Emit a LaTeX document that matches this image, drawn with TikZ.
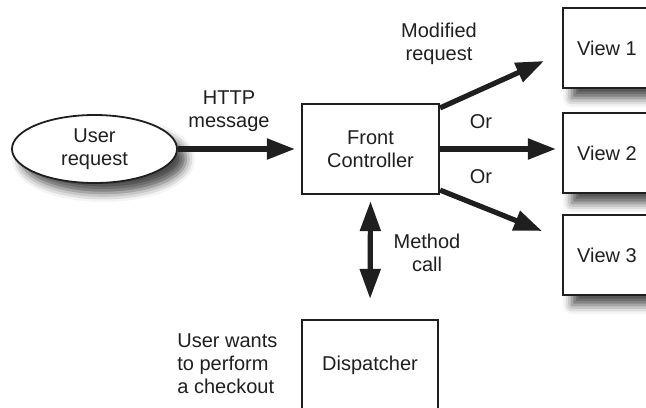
\documentclass[tikz,border=0pt]{standalone}
\usepackage{fontspec}
\setmainfont{Liberation Sans}
\usetikzlibrary{arrows.meta,shapes.geometric,shadows.blur,calc}
\definecolor{ink}{gray}{0.12}
\begin{document}
\begin{tikzpicture}[x=0.5pt,y=-0.5pt,
  txt/.style={font=\fontsize{10}{11.5}\selectfont, text=ink},
  lbl/.style={txt, align=center, inner sep=0pt},
  box/.style={txt, align=center, draw=ink, line width=1.1pt, fill=white, inner sep=0pt},
  soft/.style={blur shadow={shadow xshift=4.5pt, shadow yshift=-5pt, shadow blur radius=4.5pt, shadow opacity=70}},
  flow/.style={draw=ink, line width=2.6pt, -{Triangle[length=14pt,width=10pt]}},
  both/.style={draw=ink, line width=2.6pt, {Triangle[length=15pt,width=10pt]}-{Triangle[length=15pt,width=10pt]}},
]
\useasboundingbox (0,0) rectangle (646,407);

% nodes
\node[txt, ellipse, draw=ink, line width=0.9pt, fill=white, align=center,
      minimum width=82.5pt, minimum height=34pt, inner sep=0pt, soft]
      (user) at (94.5,149) {User\\request};
\node[box, minimum width=68.5pt, minimum height=45pt] (fc) at (370.5,149) {Front\\Controller};
\node[box, minimum width=68pt, minimum height=45pt] (disp) at (370,365) {Dispatcher};
\node[box, minimum width=44pt, minimum height=40pt, soft] (v1) at (607,48) {View 1};
\node[box, minimum width=44pt, minimum height=40pt, soft] (v2) at (607,153) {View 2};
\node[box, minimum width=44pt, minimum height=40pt, soft] (v3) at (607,255) {View 3};

% free arrow ends
\coordinate (t1) at (544,61);
\coordinate (t3) at (542,231);

% connectors
\draw[flow, shorten >=3pt] (user) -- (fc);
\draw[flow] ($(fc.north east)+(0,5)$) -- (t1);
\draw[flow, shorten >=3pt] (fc.east) -- (fc.east -| v2.west);
\draw[flow] ($(fc.south east)+(0,-5)$) -- (t3);
\draw[both, shorten <=3pt, shorten >=10pt] (fc.south) -- (disp.north);

% labels
\node[lbl] (lhttp) at (229,111) {HTTP\\message};
\node[lbl] (lmod) at (439,44) {Modified\\request};
\node[lbl] (lor1) at (481,122) {Or};
\node[lbl] (lor2) at (481,177) {Or};
\node[lbl] (lcall) at (427,253) {Method\\call};
\node[lbl, align=left, anchor=west] (lwant) at (177,364) {User wants\\to perform\\a checkout};
\end{tikzpicture}
\end{document}
